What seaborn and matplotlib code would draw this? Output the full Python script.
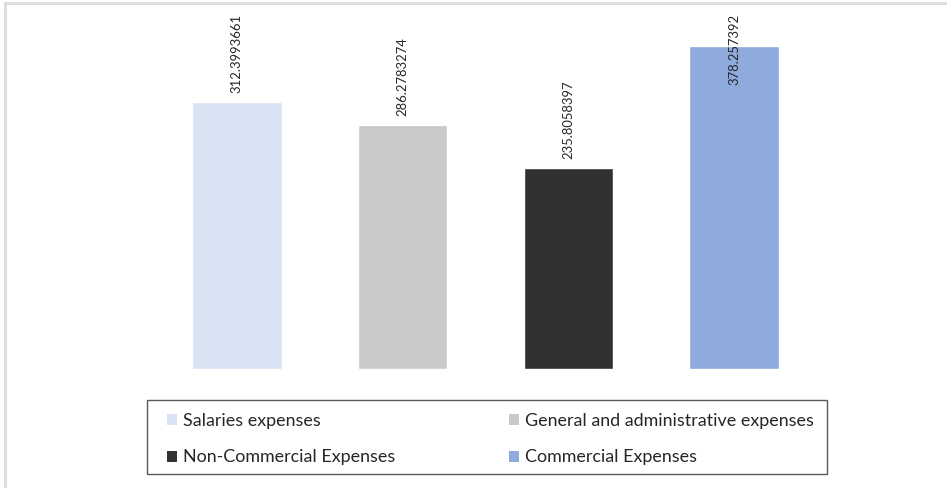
import matplotlib
matplotlib.use("Agg")
import matplotlib.pyplot as plt
from matplotlib.patches import Patch, Rectangle
from matplotlib.lines import Line2D
import seaborn as sns
import pandas as pd

categories = [
    "Salaries expenses",
    "General and administrative expenses",
    "Non-Commercial Expenses",
    "Commercial Expenses",
]
values = [312.3993661, 286.2783274, 235.8058397, 378.257392]
labels = ["312.3993661", "286.2783274", "235.8058397", "378.257392"]
colors = ["#dae3f3", "#c8c9ca", "#323031", "#8faadc"]

sns.set_theme(style="white")
plt.rcParams["font.family"] = ["Lato", "DejaVu Sans"]

W, H = 947, 488
fig = plt.figure(figsize=(W / 100, H / 100), dpi=100)

# outer chart frame (top and left edges visible)
fig.add_artist(Line2D([5 / W, 5 / W], [0, 1 - 3 / H], transform=fig.transFigure,
                      color="#dcdfdf", lw=2.2))
fig.add_artist(Line2D([5 / W, 1], [1 - 3 / H, 1 - 3 / H], transform=fig.transFigure,
                      color="#dcdfdf", lw=2.2))

# plot area
x0, x1 = 154, 817
y_top, y_base = 14, 369
ax = fig.add_axes([x0 / W, 1 - y_base / H, (x1 - x0) / W, (y_base - y_top) / H])

df = pd.DataFrame({"category": categories, "value": values})
sns.barplot(data=df, x="category", y="value", hue="category", palette=colors,
            width=0.54, dodge=False, legend=False, ax=ax, saturation=1)

ymax = 415.7
ax.set_ylim(0, ymax)
ax.set_xlim(-0.5, 3.5)
ax.axis("off")

# value labels, rotated; kept inside the plot area when near the top
label_height = 96
for i, (v, t) in enumerate(zip(values, labels)):
    y = v + 10.5
    if y + label_height > ymax:
        ax.text(i, ymax, t, rotation=90, ha="center", va="top",
                fontsize=9.4, color="#262626")
    else:
        ax.text(i, y, t, rotation=90, ha="center", va="bottom",
                fontsize=9.4, color="#262626")

# legend box
lx0, lx1, ly0, ly1 = 147, 827, 400, 474
fig.add_artist(Rectangle((lx0 / W, 1 - ly1 / H), (lx1 - lx0) / W, (ly1 - ly0) / H,
                         transform=fig.transFigure, facecolor="none",
                         edgecolor="#595959", lw=1.0))

# legend entries laid out inside the box
ex0, ex1 = 167, 814
yc = (ly0 + ly1) / 2 + 2
handles = [Patch(facecolor=c, edgecolor="none") for c in colors]
order = [0, 2, 1, 3]
leg = fig.legend([handles[i] for i in order], [categories[i] for i in order],
                 ncol=2, mode="expand",
                 bbox_to_anchor=(ex0 / W, 1 - (yc + 1) / H, (ex1 - ex0) / W, 2 / H),
                 loc="center", frameon=False, fontsize=12.9,
                 handlelength=0.56, handleheight=0.56, handletextpad=0.33,
                 labelspacing=1.17, borderpad=0, borderaxespad=0,
                 labelcolor="#262626")

fig.savefig("out.png", dpi=100)
